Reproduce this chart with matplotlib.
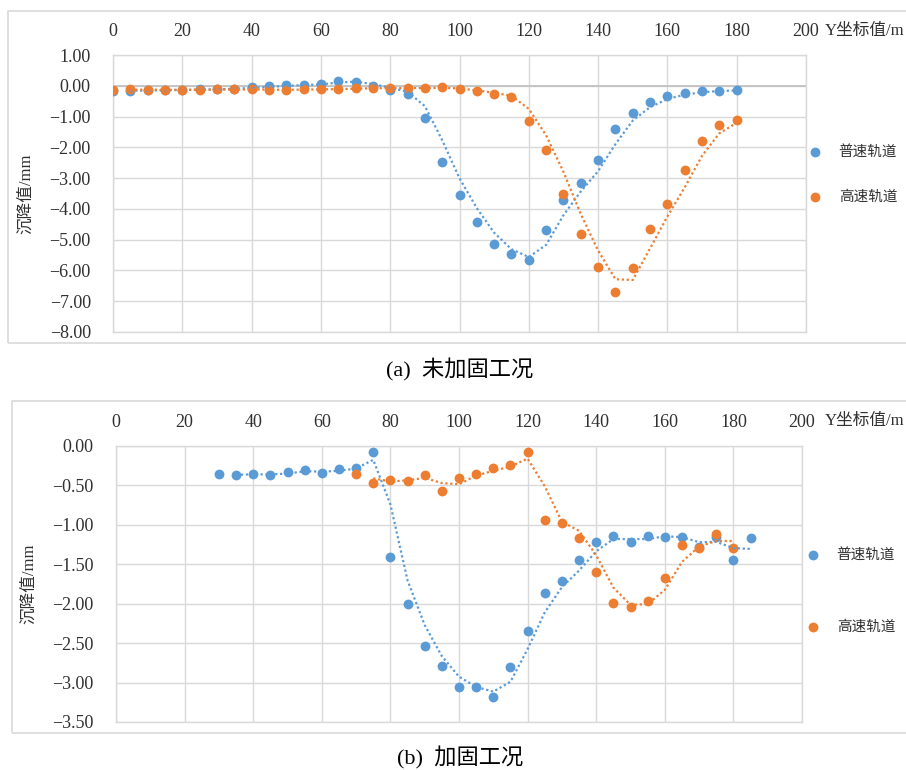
import numpy as np
import matplotlib
matplotlib.use("Agg")
import matplotlib.pyplot as plt
from matplotlib.patches import Rectangle

# ---------------- data ----------------
xa_blue = list(range(0, 185, 5))
ya_blue = [-0.16, -0.16, -0.15, -0.14, -0.13, -0.12, -0.11, -0.09, -0.05, -0.02,
           0.01, 0.04, 0.05, 0.16, 0.11, 0.00, -0.13, -0.26, -1.06, -2.47,
           -3.54, -4.41, -5.14, -5.48, -5.65, -4.69, -3.72, -3.15, -2.40, -1.39,
           -0.87, -0.52, -0.34, -0.24, -0.18, -0.16, -0.14]
xa_orange = list(range(0, 185, 5))
ya_orange = [-0.13, -0.12, -0.13, -0.13, -0.13, -0.13, -0.12, -0.12, -0.12, -0.13,
             -0.13, -0.12, -0.11, -0.11, -0.08, -0.08, -0.08, -0.07, -0.08, -0.05,
             -0.12, -0.18, -0.28, -0.37, -1.13, -2.09, -3.50, -4.83, -5.88, -6.69,
             -5.93, -4.64, -3.85, -2.75, -1.80, -1.29, -1.12]

xb_blue = list(range(30, 190, 5))
yb_blue = [-0.36, -0.37, -0.35, -0.37, -0.33, -0.31, -0.34, -0.29, -0.28, -0.07,
           -1.41, -2.00, -2.54, -2.79, -3.06, -3.05, -3.18, -2.80, -2.35, -1.87,
           -1.71, -1.45, -1.22, -1.14, -1.22, -1.14, -1.15, -1.16, -1.28, -1.15,
           -1.44, -1.17]
xb_orange = list(range(70, 185, 5))
yb_orange = [-0.35, -0.47, -0.43, -0.44, -0.37, -0.57, -0.40, -0.35, -0.28, -0.24,
             -0.08, -0.94, -0.98, -1.17, -1.60, -1.99, -2.04, -1.97, -1.68, -1.26,
             -1.29, -1.12, -1.29]

series_names = ["普速轨道", "高速轨道"]
x_ticks = [0, 20, 40, 60, 80, 100, 120, 140, 160, 180, 200]
ya_ticks = [1, 0, -1, -2, -3, -4, -5, -6, -7, -8]
yb_ticks = [0, -0.5, -1, -1.5, -2, -2.5, -3, -3.5]
x_title = "Y坐标值/m"
y_title = "沉降值/mm"
captions = ["(a)  未加固工况", "(b)  加固工况"]

BLUE = "#5B9BD5"
ORANGE = "#ED7D31"
GRID = "#D9D9D9"
TXT = "#303030"
SERIF_CJK = ["Liberation Serif", "Noto Sans CJK SC", "DejaVu Sans"]
CJK = ["Noto Sans CJK SC", "DejaVu Sans"]

W, H = 906, 770
fig = plt.figure(figsize=(W / 100, H / 100), dpi=100)


def fx(px):
    return px / W


def fy(py):
    return 1 - py / H


def moving_avg(x, y):
    x = np.asarray(x, float)
    y = np.asarray(y, float)
    return x[1:], (y[1:] + y[:-1]) / 2


def panel(box, axpos, xb, yb, xo, yo, ylim, yticks, title_y, leg_anchor, leg_spacing,
          ylabel_x, caption, caption_y):
    # outer border
    bx0, by0, by1 = box
    fig.add_artist(Rectangle((fx(bx0), fy(by1)), 1.2, (by1 - by0) / H,
                             transform=fig.transFigure, fill=False,
                             edgecolor=GRID, linewidth=1.2, clip_on=False))
    l, r, t, b = axpos
    ax = fig.add_axes([fx(l), fy(b), fx(r - l), (b - t) / H])
    ax.set_xlim(0, 200)
    ax.set_ylim(*ylim)
    ax.set_xticks(x_ticks)
    ax.set_yticks(yticks)
    ax.set_xticklabels([str(v) for v in x_ticks], family=SERIF_CJK, fontsize=13)
    ax.set_yticklabels([f"{v:.2f}".replace("-", "\u2212") for v in yticks],
                       family=SERIF_CJK, fontsize=13)
    ax.xaxis.tick_top()
    ax.tick_params(axis="x", length=0, pad=11, colors=TXT)
    ax.tick_params(axis="y", length=0, pad=16, colors=TXT)
    ax.grid(True, color=GRID, linewidth=1.0)
    ax.set_axisbelow(True)
    for s in ax.spines.values():
        s.set_color(GRID)
        s.set_linewidth(1.0)
    ax.axhline(0, color="#BFBFBF", linewidth=1.2, zorder=1)

    ax.scatter(xb, yb, s=50, color=BLUE, zorder=3, label=series_names[0], linewidths=0)
    ax.scatter(xo, yo, s=50, color=ORANGE, zorder=3, label=series_names[1], linewidths=0)
    mx, my = moving_avg(xb, yb)
    ax.plot(mx, my, linestyle=(0, (1, 1.2)), color=BLUE, linewidth=1.6, zorder=4)
    mx, my = moving_avg(xo, yo)
    ax.plot(mx, my, linestyle=(0, (1, 1.2)), color=ORANGE, linewidth=1.6, zorder=4)

    leg = ax.legend(loc="center left", bbox_to_anchor=leg_anchor, frameon=False,
                    prop={"family": CJK, "size": 10.5}, handlelength=1.0,
                    handletextpad=1.1, labelspacing=leg_spacing, borderpad=0,
                    borderaxespad=0)
    for txt in leg.get_texts():
        txt.set_color(TXT)

    fig.text(fx(825), fy(title_y), x_title, family=SERIF_CJK, fontsize=12,
             ha="left", va="center", color=TXT)
    ax.set_ylabel(y_title, family=SERIF_CJK, fontsize=12, color=TXT)
    ax.yaxis.set_label_coords((ylabel_x - l) / (r - l), 0.5)
    fig.text(fx(460), fy(caption_y), caption, family=SERIF_CJK, fontsize=16,
             ha="center", va="center", color="#000000")
    return ax


panel((8, 11, 343), (113, 806, 55, 332), xa_blue, ya_blue, xa_orange, ya_orange,
      (-8, 1), ya_ticks, 31, (1.003, 0.569), 2.1, 34, captions[0], 370)
panel((12, 401, 733), (116, 802, 446, 722), xb_blue, yb_blue, xb_orange, yb_orange,
      (-3.5, 0), yb_ticks, 421, (1.006, 0.476), 4.0, 37, captions[1], 758)

fig.savefig("out.png", dpi=100)
